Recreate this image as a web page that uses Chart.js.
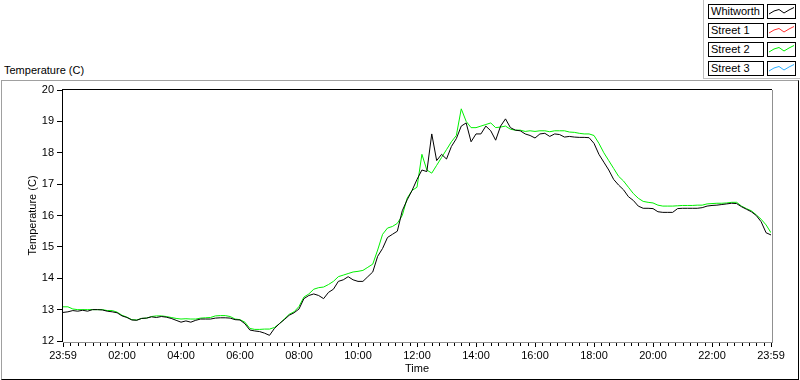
<!DOCTYPE html>
<html><head><meta charset="utf-8">
<script src="https://cdn.jsdelivr.net/npm/chart.js@4.4.0/dist/chart.umd.min.js"></script>
<style>
html,body{margin:0;padding:0;background:#fff;}
body{width:800px;height:380px;position:relative;overflow:hidden;font-family:"Liberation Sans",Arial,sans-serif;font-size:11px;color:#000;}
.frame{position:absolute;left:1px;top:80px;width:798px;height:300px;border-top:1px solid #a0a0a0;border-left:1px solid #a0a0a0;border-right:1px solid #000;border-bottom:1px solid #000;box-sizing:border-box;}
.caption{position:absolute;left:4px;top:64px;line-height:13px;white-space:nowrap;}
#cv{position:absolute;left:0;top:0;}
.lgframe{position:absolute;left:703px;top:0;width:97px;height:79px;border-left:1px solid #c0c0c0;border-bottom:1px solid #c0c0c0;box-sizing:border-box;background:#fff;}
.lname{position:absolute;left:708px;width:56px;height:15px;border:1px solid #000;box-sizing:border-box;padding-left:2px;line-height:13px;background:#fff;white-space:nowrap;}
.lsample{position:absolute;left:767px;width:29px;height:15px;border:1px solid #000;box-sizing:border-box;background:#fff;}
.lsample svg{position:absolute;left:0;top:0;}
</style>
</head><body>
<div class="frame"></div>
<div class="caption">Temperature (C)</div>
<canvas id="cv" width="800" height="380"></canvas>
<div class="lgframe"></div>
<div id="legend"></div>
<script>
// ---- data (10-minute samples, hours from 23:59) ----
const seriesNames = ['Whitworth', 'Street 1', 'Street 2', 'Street 3'];
const seriesColors = ['#000000', '#ff3030', '#00f000', '#30b0ff'];
const xTickHours = [0, 2, 4, 6, 8, 10, 12, 14, 16, 18, 20, 22, 24];
const xTickLabels = ['23:59', '02:00', '04:00', '06:00', '08:00', '10:00', '12:00', '14:00', '16:00', '18:00', '20:00', '22:00', '23:59'];
const yMin = 12, yMax = 20;

const whitworth = [
 12.91,12.93,12.97,12.95,12.98,12.95,13.00,13.00,12.99,12.95,12.93,12.90,
 12.80,12.75,12.67,12.66,12.72,12.73,12.77,12.75,12.78,12.76,12.72,12.66,
 12.60,12.64,12.60,12.66,12.70,12.70,12.70,12.73,12.74,12.74,12.73,12.68,
 12.67,12.55,12.35,12.32,12.30,12.25,12.18,12.40,12.55,12.68,12.82,12.90,
 13.02,13.35,13.45,13.50,13.45,13.35,13.55,13.65,13.90,13.95,14.05,13.95,
 13.90,13.90,14.05,14.20,14.70,14.95,15.30,15.40,15.50,16.15,16.50,16.80,
 17.15,17.45,17.40,18.60,17.75,17.95,17.80,18.20,18.45,18.85,18.95,18.35,
 18.60,18.60,18.85,18.70,18.40,18.85,19.08,18.80,18.72,18.70,18.60,18.55,
 18.47,18.60,18.62,18.52,18.60,18.58,18.50,18.52,18.50,18.49,18.49,18.48,
 18.30,17.95,17.70,17.45,17.15,16.97,16.82,16.60,16.48,16.30,16.23,16.23,
 16.22,16.12,16.10,16.10,16.10,16.22,16.23,16.23,16.23,16.23,16.25,16.30,
 16.32,16.33,16.35,16.37,16.39,16.38,16.28,16.20,16.12,16.00,15.80,15.45,
 15.38
];
const street1 = [];   // not visible in the chart
const street2 = [
 13.09,13.09,13.02,13.00,13.00,13.00,13.00,13.00,13.00,12.97,12.97,12.92,
 12.82,12.76,12.68,12.67,12.72,12.73,12.78,12.80,12.80,12.78,12.75,12.72,
 12.70,12.71,12.70,12.70,12.73,12.74,12.75,12.80,12.81,12.81,12.78,12.70,
 12.68,12.60,12.40,12.37,12.37,12.38,12.38,12.43,12.55,12.70,12.85,12.93,
 13.10,13.40,13.50,13.65,13.70,13.72,13.80,13.90,14.05,14.10,14.15,14.20,
 14.22,14.25,14.35,14.45,14.90,15.40,15.60,15.65,15.75,16.00,16.55,16.80,
 16.90,17.95,17.45,17.35,17.60,17.85,18.10,18.35,18.55,19.40,19.00,18.80,
 18.80,18.85,18.90,18.95,18.80,18.82,18.85,18.75,18.72,18.72,18.68,18.70,
 18.68,18.70,18.70,18.67,18.70,18.70,18.70,18.66,18.65,18.62,18.60,18.60,
 18.55,18.30,18.00,17.75,17.50,17.25,17.10,16.90,16.70,16.55,16.45,16.42,
 16.40,16.33,16.30,16.30,16.30,16.31,16.32,16.32,16.32,16.33,16.33,16.37,
 16.38,16.39,16.39,16.40,16.42,16.42,16.30,16.22,16.15,16.02,15.88,15.70,
 15.45
];
const street3 = [];   // not visible in the chart
const stepMinutes = 10;

const seriesValues = [whitworth, street1, street2, street3];
function toPoints(vals){ return vals.map((v,i)=>({x: i*stepMinutes/60, y: v})); }

// ---- legend (HTML) ----
const lg = document.getElementById('legend');
const rowTops = [4, 23, 42, 61];
seriesNames.forEach((n,i)=>{
  const a = document.createElement('div'); a.className='lname'; a.style.top=rowTops[i]+'px'; a.textContent=n; lg.appendChild(a);
  const b = document.createElement('div'); b.className='lsample'; b.style.top=rowTops[i]+'px';
  b.innerHTML = '<svg width="27" height="13"><polyline points="1,9 6,6 11,4.5 16,8 21,5 26,2.5" fill="none" stroke="'+seriesColors[i]+'" stroke-width="1"/></svg>';
  lg.appendChild(b);
});

// ---- frame + minor ticks plugin ----
const framePlugin = {
  id: 'framePlugin',
  afterDraw(chart){
    const {ctx, chartArea:a, scales:{x}} = chart;
    ctx.save();
    ctx.lineWidth = 1;
    ctx.strokeStyle = '#000';
    // x ticks: major every 2 h, minor every 15 min
    for (let m = 0; m <= 24*60; m += 15) {
      const px = Math.round(x.getPixelForValue(m/60)) + 0.5;
      const major = (m % 120 === 0);
      ctx.beginPath();
      ctx.moveTo(px, a.bottom + 2);
      ctx.lineTo(px, a.bottom + (major ? 6 : 5));
      ctx.stroke();
    }
    // plot borders
    ctx.strokeStyle = '#000';
    ctx.beginPath();
    ctx.moveTo(a.left - 1, a.top - 0.5); ctx.lineTo(a.right + 1, a.top - 0.5);
    ctx.moveTo(a.left - 0.5, a.top - 1); ctx.lineTo(a.left - 0.5, a.bottom + 1);
    ctx.stroke();
    ctx.strokeStyle = '#909090';
    ctx.beginPath();
    ctx.moveTo(a.left, a.bottom + 1.5); ctx.lineTo(a.right + 1.5, a.bottom + 1.5);
    ctx.moveTo(a.right + 1.5, a.top); ctx.lineTo(a.right + 1.5, a.bottom + 2);
    ctx.stroke();
    ctx.restore();
  }
};

Chart.defaults.font.family = '"Liberation Sans", Arial, sans-serif';
Chart.defaults.font.size = 11;
Chart.defaults.color = '#000';

new Chart(document.getElementById('cv'), {
  type: 'line',
  data: {
    datasets: seriesNames.map((n,i)=>({
      label: n,
      data: toPoints(seriesValues[i]),
      borderColor: seriesColors[i],
      backgroundColor: seriesColors[i],
      borderWidth: 1,
      pointRadius: 0,
      tension: 0,
      fill: false
    }))
  },
  options: {
    responsive: false,
    animation: false,
    events: [],
    layout: { padding: { top: 90, right: 29, bottom: 0, left: 0 } },
    plugins: { legend: { display: false }, tooltip: { enabled: false } },
    scales: {
      x: {
        type: 'linear', min: 0, max: 24,
        afterFit(s){ s.height = 39; },
        afterBuildTicks(s){ s.ticks = xTickHours.map(v=>({value:v})); },
        ticks: { autoSkip: false, maxRotation: 0, padding: 3,
          callback(v){ const k = xTickHours.indexOf(v); return k >= 0 ? xTickLabels[k] : ''; } },
        grid: { drawOnChartArea: false, drawTicks: true, tickLength: 5, tickColor: 'rgba(0,0,0,0)' },
        border: { display: false },
        title: { display: true, text: 'Time', padding: { top: 0, bottom: 4 } }
      },
      y: {
        min: yMin, max: yMax,
        afterFit(s){ s.width = 63; },
        ticks: { stepSize: 1, padding: 3 },
        grid: { drawOnChartArea: false, drawTicks: true, tickLength: 6, tickColor: '#000' },
        border: { display: false },
        title: { display: true, text: 'Temperature (C)', padding: { top: 26, bottom: 0 } }
      }
    }
  },
  plugins: [framePlugin]
});
</script>
</body></html>
